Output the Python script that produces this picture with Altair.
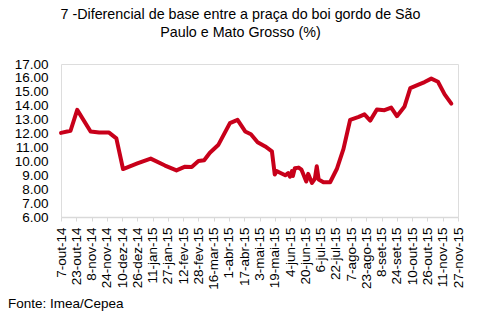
import altair as alt
import pandas as pd

dates = [
    "2014-10-07", "2014-10-17", "2014-10-24", "2014-11-07", "2014-11-16", "2014-11-26",
    "2014-12-04", "2014-12-11", "2014-12-26", "2015-01-09", "2015-01-24", "2015-02-05",
    "2015-02-14", "2015-02-21", "2015-02-28", "2015-03-06", "2015-03-12", "2015-03-21",
    "2015-04-02", "2015-04-10", "2015-04-18", "2015-04-24", "2015-05-01", "2015-05-09",
    "2015-05-16", "2015-05-19", "2015-05-21", "2015-05-24", "2015-05-30", "2015-06-02",
    "2015-06-04", "2015-06-06", "2015-06-07", "2015-06-09", "2015-06-13", "2015-06-16",
    "2015-06-21", "2015-06-23", "2015-06-27", "2015-06-30", "2015-07-02", "2015-07-04",
    "2015-07-09", "2015-07-16", "2015-07-23", "2015-07-30", "2015-08-06", "2015-08-15",
    "2015-08-21", "2015-08-27", "2015-09-03", "2015-09-11", "2015-09-18", "2015-09-24",
    "2015-10-02", "2015-10-08", "2015-10-16", "2015-10-23", "2015-10-30", "2015-11-06",
    "2015-11-13", "2015-11-20",
]
values = [
    12.05, 12.20, 13.70, 12.15, 12.08, 12.08,
    11.65, 9.45, 9.85, 10.20, 9.70, 9.35,
    9.62, 9.60, 10.02, 10.08, 10.62, 11.20,
    12.75, 12.98, 12.15, 11.95, 11.38, 11.07,
    10.72, 9.05, 9.30, 9.20, 9.00, 9.15,
    8.90, 9.30, 8.95, 9.50, 9.55, 9.40,
    8.55, 9.10, 8.45, 8.75, 9.65, 8.70,
    8.50, 8.50, 9.45, 10.90, 12.99, 13.20,
    13.38, 12.93, 13.73, 13.68, 13.87, 13.25,
    13.95, 15.27, 15.50, 15.70, 15.95, 15.72,
    14.82, 14.15,
]

tick_dates = [
    "2014-10-07", "2014-10-23", "2014-11-08", "2014-11-24", "2014-12-10", "2014-12-26",
    "2015-01-11", "2015-01-27", "2015-02-12", "2015-02-28", "2015-03-16", "2015-04-01",
    "2015-04-17", "2015-05-03", "2015-05-19", "2015-06-04", "2015-06-20", "2015-07-06",
    "2015-07-22", "2015-08-07", "2015-08-23", "2015-09-08", "2015-09-24", "2015-10-10",
    "2015-10-26", "2015-11-11", "2015-11-27",
]
y_ticks = [6, 7, 8, 9, 10, 11, 12, 13, 14, 15, 16, 17]

title_lines = ["7 -Diferencial de base entre a praça do boi gordo de São", "Paulo e Mato Grosso (%)"]
source = "Fonte: Imea/Cepea"

df = pd.DataFrame({"date": dates, "value": values})

FONT = "Liberation Sans"
month_expr = "['jan','fev','mar','abr','mai','jun','jul','ago','set','out','nov','dez']"

line = alt.Chart(df).mark_line(color="#c8001a", strokeWidth=4, strokeJoin="round", strokeCap="round").encode(
    x=alt.X(
        "date:T",
        scale=alt.Scale(type="utc", domain=[tick_dates[0], tick_dates[-1]]),
        axis=alt.Axis(
            title=None,
            values=tick_dates,
            labelExpr="utcdate(datum.value) + '-' + " + month_expr + "[utcmonth(datum.value)] + '-' + utcFormat(datum.value, '%y')",
            labelAngle=270,
            labelAlign="right",
            labelBaseline="middle",
            labelPadding=6,
            labelFont=FONT,
            labelFontSize=13.5,
            labelColor="#000000",
            labelOverlap=False,
            labelFlush=False,
            grid=False,
            domainColor="#d9d9d9",
            domainWidth=1.5,
            tickColor="#d9d9d9",
            tickSize=4,
            tickWidth=1,
        ),
    ),
    y=alt.Y(
        "value:Q",
        scale=alt.Scale(domain=[6, 17], nice=False, zero=False),
        axis=alt.Axis(
            title=None,
            values=y_ticks,
            format=".2f",
            labelFont=FONT,
            labelFontSize=13.5,
            labelColor="#000000",
            labelPadding=13,
            grid=False,
            domain=False,
            ticks=False,
        ),
    ),
)

src = alt.Chart(pd.DataFrame({"t": [source]})).mark_text(
    font=FONT, fontSize=13.5, align="left", baseline="middle", color="#000000"
).encode(
    x=alt.value(-53),
    y=alt.value(240),
    text="t:N",
)

chart = alt.layer(line, src).properties(
    width=397,
    height=153,
    title=alt.TitleParams(
        text=title_lines,
        font=FONT,
        fontSize=14.3,
        fontWeight="normal",
        color="#000000",
        anchor="middle",
        dx=-19,
        lineHeight=18,
        offset=17,
    ),
    padding={"left": 61, "top": 64, "right": 28, "bottom": 104},
    autosize=alt.AutoSizeParams(type="none"),
).configure_view(stroke=None).configure(background="white")

chart.save("out.html", embed_options={"renderer": "svg", "actions": False})
